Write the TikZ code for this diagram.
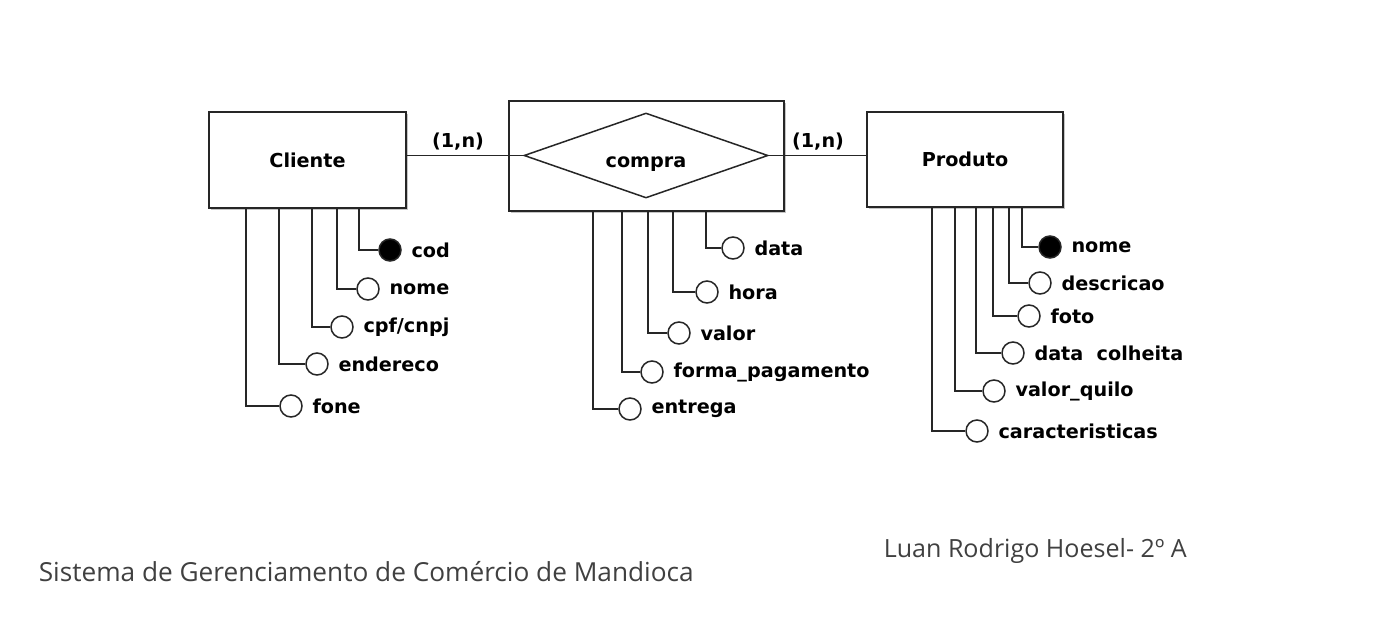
\documentclass[tikz,border=0pt]{standalone}
\usepackage{fontspec}
\setmainfont{DejaVu Sans}
\newfontfamily\footfont{Open Sans}
\usetikzlibrary{shapes.geometric,shadows}
\begin{document}
\begin{tikzpicture}[x=0.5pt,y=-0.5pt,
  line width=0.75pt,
  conn/.style={draw=black!85},
  erfont/.style={font=\bfseries\fontsize{9.6}{11}\selectfont, text=black},
  entity/.style={draw=black!85, fill=white, rectangle, inner sep=0, erfont,
    drop shadow={shadow xshift=0.9pt,shadow yshift=-0.9pt,fill=black!45}},
  rel/.style={draw=black!85, fill=white, diamond, aspect=3, inner sep=0, erfont, text height=12pt, text depth=0pt},
  attr/.style={circle, draw=black!85, fill=white, minimum size=11pt, inner sep=0},
  keyattr/.style={attr, fill=black},
  attrlab/.style={erfont, inner sep=0, anchor=west},
  card/.style={erfont, inner sep=0},
  foot/.style={font=\footfont\fontsize{14}{16}\selectfont, text=black!75, inner sep=0, anchor=base west},
]
\useasboundingbox (0,0) rectangle (1390,626);

% entities
\node[entity, minimum width=98.5pt, minimum height=48pt] (cli) at (307.5,160) {\raisebox{-1pt}{Cliente}};
\node[entity, minimum width=137.5pt, minimum height=55pt] (cbox) at (646.5,156) {};
\node[rel, minimum width=122pt, minimum height=42.5pt] (comp) at (646,155.5) {compra};
\node[entity, minimum width=98pt, minimum height=47.5pt] (prod) at (965,159.5) {\raisebox{-1pt}{Produto}};

% relationships
\draw[conn] (cli.east |- comp.west) -- (comp.west);
\draw[conn] (comp.east) -- (prod.west |- comp.east);
\node[card] (c1) at (458,142) {(1,n)};
\node[card] (c2) at (818,142) {(1,n)};

% Cliente attributes
\foreach \n/\x/\cx/\cy/\t/\s in {a1/359/390/250/cod/keyattr, a2/337/368/289/nome/attr, a3/312/342/327/cpf\slash cnpj/attr, a4/279/317/364/endereco/attr, a5/246/291/406/fone/attr}{
  \node[\s] (\n) at (\cx,\cy) {};
  \node[attrlab] (\n t) at ([xshift=4.5pt]\n.east) {\t};
  \coordinate (\n b) at (\x,208);
  \draw[conn] (\n b) |- (\n);
}

% compra attributes
\foreach \n/\x/\cx/\cy/\t in {b1/706/733/248/data, b2/673/707/292/hora, b3/648/679/333/valor, b4/622/652/372/forma\_pagamento, b5/593/630/409/entrega}{
  \node[attr] (\n) at (\cx,\cy) {};
  \node[attrlab] (\n t) at ([xshift=4.5pt]\n.east) {\t};
  \coordinate (\n b) at (\x,211);
  \draw[conn] (\n b) |- (\n);
}

% Produto attributes
\foreach \n/\x/\cx/\cy/\t/\s in {p1/1022/1050/247/nome/keyattr, p2/1009/1040/283/descricao/attr, p3/993/1029/316/foto/attr, p4/976/1013/353/data\ \ colheita/attr, p5/955/994/391/valor\_quilo/attr, p6/932/977/431/caracteristicas/attr}{
  \node[\s] (\n) at (\cx,\cy) {};
  \node[attrlab] (\n t) at ([xshift=4.5pt]\n.east) {\t};
  \coordinate (\n b) at (\x,207);
  \draw[conn] (\n b) |- (\n);
}

% footer
\node[foot] (title) at (38,581) {\resizebox{327.5pt}{!}{Sistema de Gerenciamento de Comércio de Mandioca}};
\node[foot] (author) at (883,557) {\resizebox{151.5pt}{!}{Luan Rodrigo Hoesel- 2º A}};
\end{tikzpicture}
\end{document}
